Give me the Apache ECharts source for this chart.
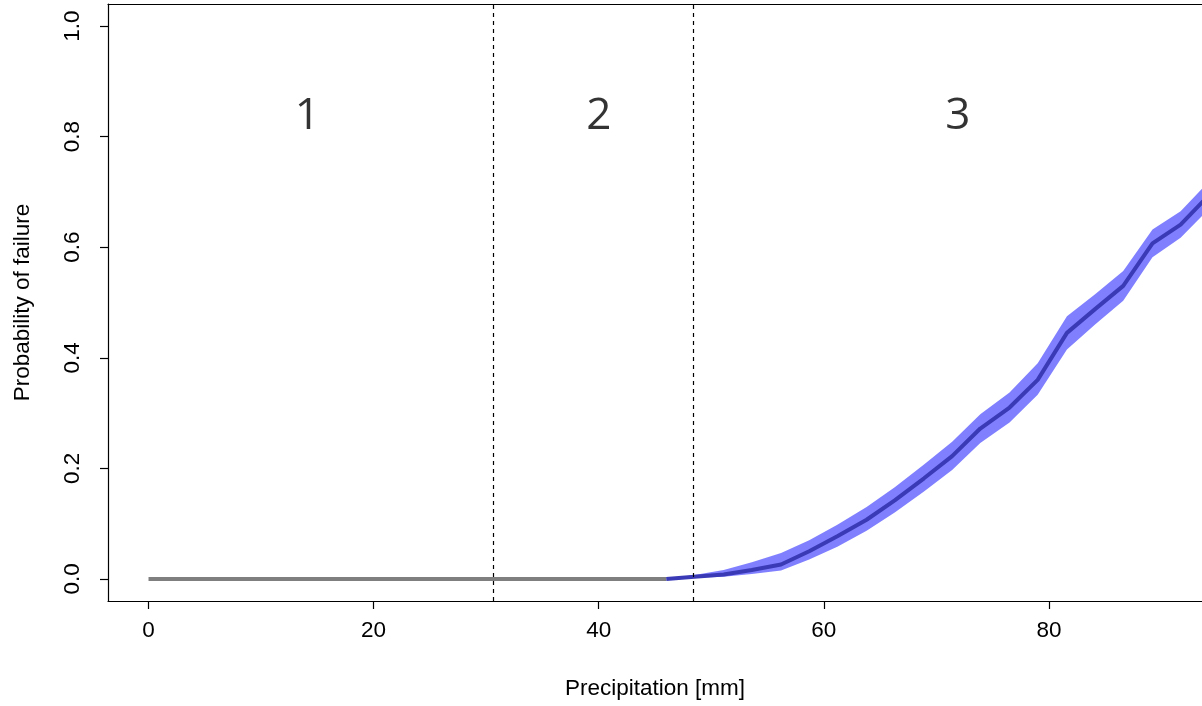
<!DOCTYPE html>
<html>
<head>
<meta charset="utf-8">
<script src="https://cdn.jsdelivr.net/npm/echarts@6/dist/echarts.min.js"></script>
<style>html,body{margin:0;padding:0;background:#fff;}#c{width:1202px;height:706px;}</style>
</head>
<body>
<div id="c"></div>
<script>
// ---- data ----
const grayX = [0, 10, 20, 30, 40, 46];
const grayY = [0, 0, 0, 0, 0, 0];
const fitX = [46.0, 48.5, 51.1, 53.6, 56.2, 58.7, 61.2, 63.8, 66.3, 68.9, 71.4, 73.9, 76.5, 79.0, 81.6, 84.1, 86.6, 89.2, 91.7, 94.3];
const fitY = [0.000, 0.004, 0.008, 0.016, 0.026, 0.050, 0.077, 0.107, 0.142, 0.182, 0.222, 0.272, 0.310, 0.360, 0.445, 0.488, 0.530, 0.607, 0.641, 0.696];
const fitLower = [0.000, 0.002, 0.004, 0.009, 0.015, 0.035, 0.058, 0.087, 0.120, 0.158, 0.197, 0.246, 0.283, 0.333, 0.415, 0.460, 0.503, 0.582, 0.617, 0.671];
const fitUpper = [0.000, 0.007, 0.016, 0.030, 0.047, 0.070, 0.098, 0.130, 0.166, 0.207, 0.248, 0.298, 0.337, 0.390, 0.475, 0.515, 0.557, 0.632, 0.665, 0.721];
const thresholds = [30.6, 48.4];
const regionLabels = ['1', '2', '3'];
const regionX = [14.1, 40.0, 71.9];
const regionY = [0.836, 0.836, 0.836];
const xTicks = [0, 20, 40, 60, 80];
const yTicks = [0, 0.2, 0.4, 0.6, 0.8, 1.0];

const chart = echarts.init(document.getElementById('c'), null, {renderer: 'canvas'});
const axisFont = {fontFamily: '"Liberation Sans", Arial, sans-serif', fontSize: 22.5, color: '#000'};
const lineStyle = {color: '#000', width: 1.2};

const option = {
  animation: false,
  backgroundColor: '#fff',
  grid: {left: 108, top: 4, right: 0, bottom: 105, show: false},
  xAxis: [{
    type: 'value', min: -3.6, max: 93.6,
    name: 'Precipitation [mm]', nameLocation: 'middle', nameGap: 76,
    nameTextStyle: axisFont,
    axisLine: {show: true, onZero: false, lineStyle: lineStyle},
    axisTick: {show: true, length: 8, customValues: xTicks, lineStyle: lineStyle},
    axisLabel: Object.assign({margin: 18, customValues: xTicks}, axisFont),
    splitLine: {show: false}
  }, {
    type: 'value', min: -3.6, max: 93.6, position: 'top',
    axisLine: {show: true, onZero: false, lineStyle: lineStyle},
    axisTick: {show: false}, axisLabel: {show: false}, splitLine: {show: false}
  }],
  yAxis: {
    type: 'value', min: -0.04, max: 1.04,
    name: 'Probability of failure', nameLocation: 'middle', nameGap: 74,
    nameTextStyle: axisFont,
    axisLine: {show: true, onZero: false, lineStyle: lineStyle},
    axisTick: {show: true, length: 8, customValues: yTicks, lineStyle: lineStyle},
    axisLabel: Object.assign({margin: 24, rotate: 90, customValues: yTicks, formatter: v => v.toFixed(1)}, axisFont),
    splitLine: {show: false}
  },
  series: [
    {
      type: 'line', data: grayX.map((x, i) => [x, grayY[i]]),
      showSymbol: false, lineStyle: {color: '#7f7f7f', width: 4}, z: 2
    },
    {
      type: 'custom', z: 3,
      data: fitX.map((x, i) => [x, fitLower[i], fitUpper[i]]),
      renderItem: function (params, api) {
        if (params.dataIndex !== 0) return null;
        const pts = [];
        for (let i = 0; i < fitX.length; i++) pts.push(api.coord([fitX[i], fitUpper[i]]));
        for (let i = fitX.length - 1; i >= 0; i--) pts.push(api.coord([fitX[i], fitLower[i]]));
        return {type: 'polygon', shape: {points: pts}, style: {fill: '#8080ff'}};
      }
    },
    {
      type: 'line', data: fitX.map((x, i) => [x, fitY[i]]),
      showSymbol: false, lineStyle: {color: '#3a3ab6', width: 4}, z: 4,
      markLine: {
        silent: true, symbol: 'none', label: {show: false},
        lineStyle: {color: '#000', type: [4, 4], width: 1.2},
        data: thresholds.map(t => ({xAxis: t}))
      }
    },
    {
      type: 'scatter', symbolSize: 0, z: 5,
      data: regionX.map((x, i) => ({value: [x, regionY[i]], name: regionLabels[i]})),
      label: {show: true, position: 'inside', formatter: p => p.name,
        fontFamily: '"Open Sans", "Noto Sans", sans-serif', fontSize: 44, color: '#000'}
    }
  ]
};
chart.setOption(option);
</script>
</body>
</html>
